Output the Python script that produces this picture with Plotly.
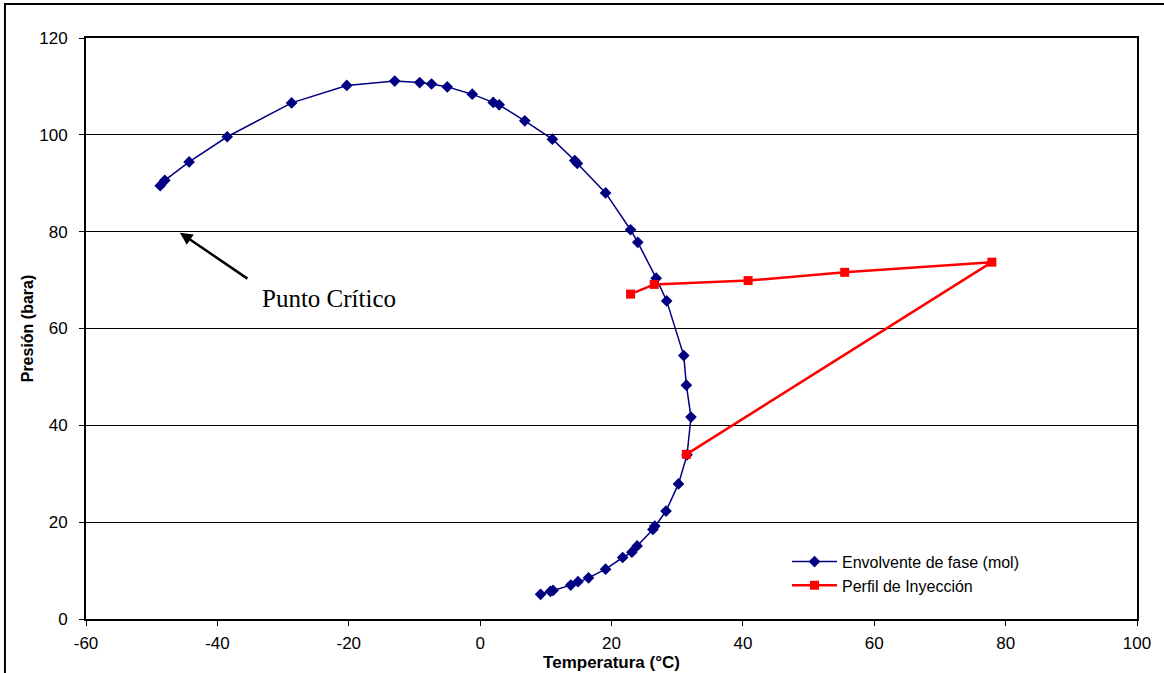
import plotly.graph_objects as go

# Envolvente de fase (mol)
env_temp = [-48.7, -48.0, -44.3, -38.5, -28.7, -20.3, -13.0, -9.2, -7.4, -5.0,
            -1.2, 2.0, 2.9, 6.8, 11.0, 14.4, 14.8, 19.1, 22.9, 24.0,
            26.8, 28.4, 31.0, 31.4, 32.1, 31.5, 30.2, 28.3, 26.6, 26.3,
            23.9, 23.1, 21.7, 19.1, 16.5, 14.9, 13.8, 11.1, 10.7, 9.2]
env_pres = [89.5, 90.6, 94.4, 99.6, 106.6, 110.2, 111.1, 110.8, 110.5, 109.9,
            108.4, 106.7, 106.2, 102.9, 99.1, 94.7, 94.1, 88.0, 80.4, 77.8,
            70.4, 65.7, 54.4, 48.3, 41.7, 33.9, 27.9, 22.3, 19.2, 18.5,
            15.1, 13.8, 12.7, 10.3, 8.5, 7.7, 7.0, 5.9, 5.7, 5.1]

# Perfil de Inyección
iny_temp = [22.9, 26.5, 40.8, 55.5, 77.9, 31.4]
iny_pres = [67.1, 69.1, 69.9, 71.6, 73.7, 34.0]

x_ticks = [-60, -40, -20, 0, 20, 40, 60, 80, 100]
x_labels = ["-60", "-40", "-20", "0", "20", "40", "60", "80", "100"]
y_ticks = [0, 20, 40, 60, 80, 100, 120]
y_labels = ["0", "20", "40", "60", "80", "100", "120"]

fig = go.Figure()
fig.add_trace(go.Scatter(
    x=env_temp, y=env_pres, mode="lines+markers",
    name="Envolvente de fase (mol)",
    line=dict(color="#000080", width=1.5),
    marker=dict(symbol="diamond", size=9, color="#000080"),
))
fig.add_trace(go.Scatter(
    x=iny_temp, y=iny_pres, mode="lines+markers",
    name="Perfil de Inyección",
    line=dict(color="#FF0000", width=2.5),
    marker=dict(symbol="square", size=9, color="#FF0000"),
))

# Punto Crítico arrow and label
fig.add_annotation(x=-45.7, y=79.8, ax=69, ay=47, axref="pixel", ayref="pixel",
                   text="", showarrow=True, arrowhead=2, arrowsize=1,
                   arrowwidth=2.5, arrowcolor="black", standoff=0)
fig.add_annotation(x=-23.0, y=66.3, text="Punto Crítico", showarrow=False,
                   font=dict(family="Liberation Serif, Times New Roman, serif",
                             size=25, color="black"))

# outer frame
fig.add_shape(type="rect", xref="paper", yref="paper",
              x0=-0.0771, x1=1.04, y0=-0.11, y1=1.0585,
              line=dict(color="black", width=2), layer="below")

fig.update_layout(
    width=1164, height=673,
    margin=dict(l=86, r=27, t=38, b=54),
    paper_bgcolor="white", plot_bgcolor="white",
    font=dict(family="Liberation Sans, Arial, sans-serif", size=17, color="black"),
    legend=dict(x=0.667, y=0.128, xanchor="left", yanchor="top",
                bgcolor="rgba(0,0,0,0)", font=dict(size=16),
                tracegroupgap=0, itemwidth=45),
    showlegend=True,
)
fig.update_xaxes(
    range=[-60, 100], tickvals=x_ticks, ticktext=x_labels, showgrid=False, zeroline=False,
    showline=True, linecolor="black", linewidth=2, mirror=True,
    ticks="outside", ticklen=5, tickcolor="black", tickwidth=1,
    ticklabelstandoff=3, automargin=False,
    title=dict(text="<b>Temperatura (°C)</b>", standoff=2,
               font=dict(size=17)),
)
fig.update_yaxes(
    range=[0, 120], tickvals=y_ticks, ticktext=y_labels, showgrid=True, gridcolor="black", gridwidth=1,
    zeroline=False, showline=True, linecolor="black", linewidth=2, mirror=True,
    ticks="outside", ticklen=5, tickcolor="black", tickwidth=1,
    ticklabelstandoff=8, automargin=False,
    title=dict(text="<b>Presión (bara)</b>", standoff=2,
               font=dict(size=16)),
)

fig.write_html("out.html")
